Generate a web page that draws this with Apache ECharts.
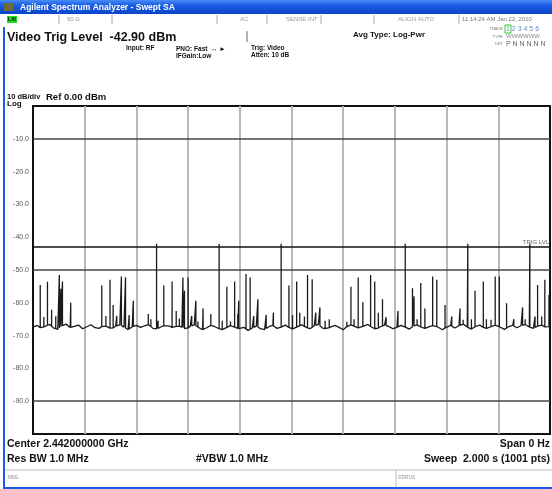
<!DOCTYPE html>
<html><head><meta charset="utf-8">
<script src="https://cdn.jsdelivr.net/npm/echarts@6/dist/echarts.min.js"></script>
<style>html,body{margin:0;padding:0;background:#fff}#c{width:552px;height:489px}</style>
</head><body><div id="c"></div>
<script>
// ---- data ----
const sweepTime = 2.0;          // s
const sweepPoints = 1001;
const refLevel = 0;             // dBm
const dbPerDiv = 10;
const trigLevel = -42.9;        // dBm
const yTickValues = [-10, -20, -30, -40, -50, -60, -70, -80, -90];
const darkGridValues = [-10, -50, -90];
const floorStep = 8;            // samples between noise-floor readings
const floorDbm = [
-67.4,-66.9,-67.8,-67.1,-66.6,-67.7,-68.1,-67.0,-66.5,-67.5,
-67.2,-66.8,-67.9,-67.3,-66.7,-67.6,-67.8,-66.9,-67.2,-68.0,
-67.1,-66.7,-67.4,-68.2,-67.3,-66.9,-67.5,-67.0,-66.6,-67.8,
-68.0,-67.3,-66.8,-67.1,-67.7,-66.9,-67.4,-68.1,-67.2,-66.7,
-67.5,-68.2,-67.6,-66.9,-67.3,-67.9,-68.3,-67.4,-66.8,-67.6,
-68.0,-67.5,-68.4,-67.7,-67.1,-67.9,-68.2,-67.3,-66.9,-67.8,
-67.4,-66.8,-67.6,-68.1,-67.2,-66.7,-67.5,-67.9,-67.0,-66.6,
-67.7,-68.0,-67.3,-66.9,-67.5,-68.2,-67.1,-66.7,-67.4,-67.8,
-67.0,-66.6,-67.6,-68.1,-67.3,-66.8,-67.2,-67.9,-67.5,-66.9,
-67.4,-68.0,-67.1,-66.7,-67.6,-67.9,-67.2,-66.8,-67.5,-68.2,
-67.3,-66.9,-67.7,-67.0,-66.5,-67.4,-68.0,-67.2,-66.8,-67.6,
-67.9,-67.1,-66.7,-67.5,-68.1,-67.3,-66.9,-67.6,-67.0,-66.6,
-67.4,-67.8,-67.1,-66.8,-67.5,-67.2
];
const spikeSample = [14,21,28,36,44,51,54,57,73,133,141,149,155,162,171,179,186,194,223,228,
239,242,253,269,277,283,290,293,300,307,315,319,329,344,360,366,375,382,390,396,
398,412,420,427,435,451,465,480,495,502,510,516,525,531,540,547,555,565,573,607,
615,621,629,638,653,661,668,676,683,706,720,734,737,743,750,758,773,781,797,810,
826,832,841,848,855,871,877,886,894,902,916,930,947,952,961,971,976,984,990,998];
const spikeDbm = [-54.6,-64.3,-53.6,-62.1,-64.1,-51.5,-55.7,-53.5,-60.0,-54.7,-64.0,-53.0,-60.7,-64.0,-52.0,-52.2,-63.7,-59.4,-63.4,-65.0,
-42.0,-65.5,-54.7,-53.5,-62.5,-64.8,-52.3,-56.3,-52.3,-64.0,-59.4,-65.7,-61.7,-63.4,-42.0,-65.5,-55.1,-65.7,-53.5,-63.5,
-59.4,-51.2,-52.3,-64.0,-58.9,-63.7,-63.0,-42.0,-54.7,-63.7,-53.5,-63.0,-64.2,-51.5,-52.8,-63.0,-61.4,-65.5,-65.0,-65.8,
-55.1,-65.0,-52.3,-59.8,-51.5,-53.5,-63.0,-58.9,-64.4,-62.5,-42.0,-55.6,-58.0,-65.0,-54.0,-61.7,-52.0,-53.0,-60.7,-64.2,
-61.7,-65.2,-42.0,-65.0,-56.3,-53.5,-65.0,-65.2,-52.0,-52.0,-60.1,-65.0,-61.4,-65.0,-42.0,-64.2,-54.6,-64.2,-53.0,-57.6];

// ---- build trace ----
const dt = sweepTime / (sweepPoints - 1);
function floorAt(s) {
  const p = s / floorStep, i = Math.floor(p), f = p - i;
  const a = floorDbm[Math.min(i, floorDbm.length - 1)], b = floorDbm[Math.min(i + 1, floorDbm.length - 1)];
  return a + (b - a) * f;
}
const raw = [];
floorDbm.forEach((v, i) => raw.push({ t: i * floorStep * dt, v, o: raw.length }));
spikeSample.forEach((s, k) => {
  const t = s * dt, f = floorAt(s);
  raw.push({ t, v: f, o: raw.length });
  raw.push({ t, v: spikeDbm[k], o: raw.length });
  raw.push({ t, v: f, o: raw.length });
});
raw.sort((a, b) => a.t - b.t || a.o - b.o);
const trace = raw.map(p => [p.t, p.v]);

const FONT = '"Liberation Sans", Arial, sans-serif';
const txt = (text, x, y, size, opts = {}) => ({
  type: 'text', silent: true, z: 100,
  style: Object.assign({ text, x, y, font: `${opts.weight || 'bold'} ${size}px ${FONT}`, fill: opts.fill || '#111',
    align: opts.align || 'left', verticalAlign: 'middle' })
});
const vline = (x, y1, y2, c) => ({ type: 'line', silent: true, z: 99, shape: { x1: x, y1, x2: x, y2 }, style: { stroke: c || '#aaa', lineWidth: 1 } });

const chart = echarts.init(document.getElementById('c'), null, { renderer: 'canvas' });
chart.setOption({
  animation: false,
  backgroundColor: '#fff',
  grid: { left: 33, right: 2, top: 106, bottom: 55, show: true, borderColor: '#111', borderWidth: 2, backgroundColor: '#fff' },
  xAxis: {
    type: 'value', min: 0, max: sweepTime, interval: sweepTime / 10,
    axisLine: { show: false }, axisTick: { show: false }, axisLabel: { show: false },
    splitLine: { show: true, showMinLine: false, showMaxLine: false, lineStyle: { color: '#b8b8b8', width: 2 } }
  },
  yAxis: {
    type: 'value', min: refLevel - 10 * dbPerDiv, max: refLevel, interval: dbPerDiv,
    axisLine: { show: false }, axisTick: { show: false }, splitLine: { show: false },
    axisLabel: {
      margin: 4, fontSize: 7, color: '#555', fontFamily: FONT,
      formatter: v => yTickValues.includes(v) ? v.toFixed(1) : ''
    }
  },
  series: [{
    type: 'line', data: trace, showSymbol: false, symbol: 'none', z: 5,
    lineStyle: { color: '#1a1a1a', width: 1.3 },
    markLine: {
      silent: true, symbol: 'none', animation: false,
      data: darkGridValues.map(v => ({ yAxis: v, lineStyle: { color: '#444', width: 1.5, type: 'solid' }, label: { show: false } }))
        .concat([{ yAxis: trigLevel, lineStyle: { color: '#111', width: 1.5, type: 'solid' },
          label: { show: true, position: 'insideEndTop', formatter: 'TRIG LVL', fontSize: 6, color: '#666', fontFamily: FONT, distance: 1 } }])
    }
  }],
  graphic: [
    { type: 'rect', silent: true, z: 98, shape: { x: 0, y: 0, width: 552, height: 14 },
      style: { fill: new echarts.graphic.LinearGradient(0, 0, 0, 1, [{ offset: 0, color: '#4a8cf5' }, { offset: 0.35, color: '#1b5fe6' }, { offset: 1, color: '#0a45c6' }]) } },
    { type: 'rect', silent: true, z: 99, shape: { x: 4, y: 3, width: 9, height: 8 }, style: { fill: '#6e6a3a' } },
    txt('Agilent Spectrum Analyzer - Swept SA', 20, 7.5, 8.5, { fill: '#fff' }),
    { type: 'rect', silent: true, z: 99, shape: { x: 7, y: 16, width: 10, height: 7 }, style: { fill: '#22dd22' } },
    txt('LXI', 12, 19.5, 5, { align: 'center', fill: '#111' }),
    vline(59, 15, 24), vline(112, 15, 24), vline(217, 15, 24), vline(267, 15, 24), vline(321, 15, 24), vline(374, 15, 24), vline(459, 15, 24),
    txt('50 Ω', 67, 19.5, 6, { weight: 'normal', fill: '#999' }),
    txt('AC', 240, 19.5, 6, { weight: 'normal', fill: '#999' }),
    txt('SENSE:INT', 286, 19.5, 6, { weight: 'normal', fill: '#999' }),
    txt('ALIGN AUTO', 398, 19.5, 6, { weight: 'normal', fill: '#999' }),
    txt('11:14:24 AM Jan 22, 2010', 462, 19.5, 6, { weight: 'normal', fill: '#777' }),
    { type: 'rect', silent: true, z: 97, shape: { x: 3, y: 27, width: 2, height: 462 }, style: { fill: '#1f5ae6' } },
    { type: 'rect', silent: true, z: 97, shape: { x: 3, y: 487, width: 549, height: 2 }, style: { fill: '#1f5ae6' } },
    txt('Video Trig Level  -42.90 dBm', 7, 38, 12.5),
    vline(247, 31, 42, '#666'),
    txt('Input: RF', 126, 48, 6.5),
    txt('PNO: Fast  ↔ ►', 176, 49, 6.5),
    txt('IFGain:Low', 176, 56.5, 6.5),
    txt('Trig: Video', 251, 48, 6.5),
    txt('Atten: 10 dB', 251, 55.5, 6.5),
    txt('Avg Type: Log-Pwr', 353, 35, 8),
    txt('TRACE', 503, 29, 4, { align: 'right', weight: 'normal', fill: '#777' }),
    { type: 'rect', silent: true, z: 99, shape: { x: 505, y: 25, width: 6, height: 8 }, style: { fill: 'none', stroke: '#33cc33', lineWidth: 1 } },
    txt('1 2 3 4 5 6', 506, 29, 7, { weight: 'normal', fill: '#6a8fb8' }),
    txt('TYPE', 503, 36.5, 4, { align: 'right', weight: 'normal', fill: '#777' }),
    txt('WWWWWW', 506, 36.5, 6, { weight: 'normal', fill: '#888' }),
    txt('DET', 503, 44, 4, { align: 'right', weight: 'normal', fill: '#777' }),
    txt('P N N N N N', 506, 44, 7, { weight: 'normal', fill: '#666' }),
    txt('10 dB/div', 7, 97, 7.5),
    txt('Ref 0.00 dBm', 46, 97, 9.5),
    txt('Log', 7, 104, 8),
    txt('Center 2.442000000 GHz', 7, 444, 10.5),
    txt('Span 0 Hz', 550, 444, 10.5, { align: 'right' }),
    txt('Res BW 1.0 MHz', 7, 459, 10.5),
    txt('#VBW 1.0 MHz', 196, 459, 10.5),
    txt('Sweep  2.000 s (1001 pts)', 550, 459, 10.5, { align: 'right' }),
    { type: 'line', silent: true, z: 99, shape: { x1: 5, y1: 470, x2: 552, y2: 470 }, style: { stroke: '#bbb', lineWidth: 1 } },
    vline(396, 470, 487, '#bbb'),
    txt('MSG', 8, 478, 4.5, { weight: 'normal', fill: '#888' }),
    txt('STATUS', 398, 478, 4.5, { weight: 'normal', fill: '#888' })
  ]
});
</script></body></html>
